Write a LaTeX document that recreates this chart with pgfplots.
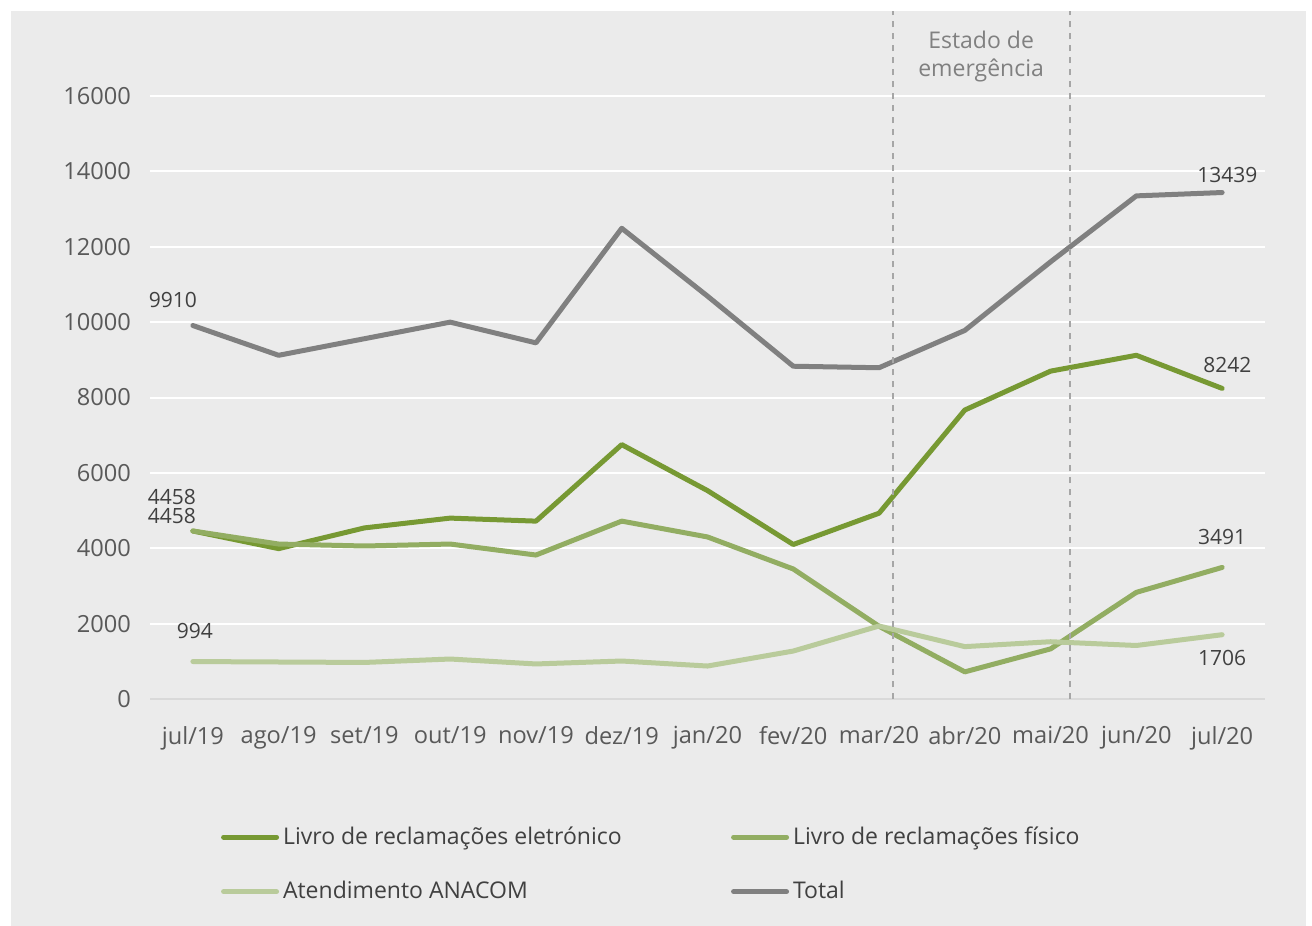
\documentclass[border=0pt]{standalone}
\usepackage{pgfplots}
\pgfplotsset{compat=1.18}
\usepackage{fontspec}
\setmainfont{Open Sans}
\definecolor{bgc}{HTML}{EBEBEB}
\definecolor{cE}{HTML}{779933}
\definecolor{cP}{HTML}{92AD62}
\definecolor{cA}{HTML}{B9CB9B}
\definecolor{cT}{HTML}{808080}
\definecolor{tk}{HTML}{595959}
\definecolor{lb}{HTML}{404040}
\begin{document}
\begin{tikzpicture}
\path (0,0) rectangle (656pt,-463pt);
\fill[bgc] (5.5pt,-5.5pt) rectangle (653pt,-463pt);
\begin{axis}[
  at={(75pt,-349.5pt)}, anchor=south west,
  scale only axis, width=557.5pt, height=301.5pt,
  xmin=-0.5, xmax=12.5, ymin=0, ymax=16000,
  clip=false,
  axis x line*=bottom, axis y line*=left,
  y axis line style={draw=none},
  x axis line style={draw=black!15, line width=1pt, -},
  major tick length=0pt,
  ymajorgrids, grid style={white, line width=1pt},
  ytick={0,2000,...,16000},
  scaled y ticks=false,
  yticklabel={\pgfmathprintnumber[fixed,precision=0,set thousands separator={},assume math mode=true]{\tick}},
  xtick={0,...,12},
  xticklabels={jul/19,ago/19,set/19,out/19,nov/19,dez/19,jan/20,fev/20,mar/20,abr/20,mai/20,jun/20,jul/20},
  ticklabel style={font=\fontsize{11.8}{14}\selectfont, text=tk},
  yticklabel style={xshift=-6pt},
  xticklabel style={yshift=-10pt},
  legend columns=2,
  legend cell align=left,
  legend style={draw=none, fill=none, at={(0.058,-0.198)}, anchor=north west,
    font=\fontsize{11.5}{13.5}\selectfont, text=lb, row sep=13pt,
    /tikz/every even column/.append style={column sep=0pt}},
  legend image code/.code={\draw[#1, line width=2.5pt, line cap=round] (0pt,0pt) -- (26.5pt,0pt);},
  every axis plot/.append style={line width=2.5pt, line join=round, line cap=round},
]
\addplot[cE] coordinates {(0,4458)(1,3990)(2,4540)(3,4800)(4,4720)(5,6750)(6,5530)(7,4100)(8,4930)(9,7668)(10,8700)(11,9120)(12,8242)};
\addlegendentry{\makebox[222pt][l]{Livro de reclamações eletrónico}}
\addplot[cP] coordinates {(0,4458)(1,4112)(2,4060)(3,4112)(4,3820)(5,4720)(6,4300)(7,3450)(8,1930)(9,720)(10,1330)(11,2830)(12,3491)};
\addlegendentry{Livro de reclamações físico}
\addplot[cA] coordinates {(0,994)(1,982)(2,970)(3,1061)(4,930)(5,1008)(6,875)(7,1273)(8,1937)(9,1390)(10,1520)(11,1420)(12,1706)};
\addlegendentry{\makebox[222pt][l]{Atendimento ANACOM}}
\addplot[cT] coordinates {(0,9910)(1,9120)(2,9560)(3,10000)(4,9450)(5,12490)(6,10690)(7,8830)(8,8790)(9,9780)(10,11600)(11,13350)(12,13439)};
\addlegendentry{Total}
\addplot[black!35, line width=0.8pt, dashed, line cap=butt, forget plot] coordinates {(8.163,0)(8.163,18250)};
\addplot[black!35, line width=0.8pt, dashed, line cap=butt, forget plot] coordinates {(10.227,0)(10.227,18250)};
\begin{scope}[every node/.style={font=\fontsize{10.5}{12}\selectfont, text=lb}]
\node at (axis cs:-0.233,10587) {9910};
\node at (axis cs:-0.245,5360) {4458};
\node at (axis cs:-0.245,4856) {4458};
\node at (axis cs:0.023,1804) {994};
\node at (axis cs:12.06,13904) {13439};
\node at (axis cs:12.06,8862) {8242};
\node at (axis cs:12,4298) {3491};
\node at (axis cs:12,1088) {1706};
\end{scope}
\node[font=\fontsize{11.5}{14}\selectfont, text=cT, align=center] at (axis cs:9.19,17060) {Estado de\\emergência};
\end{axis}
\end{tikzpicture}
\end{document}
